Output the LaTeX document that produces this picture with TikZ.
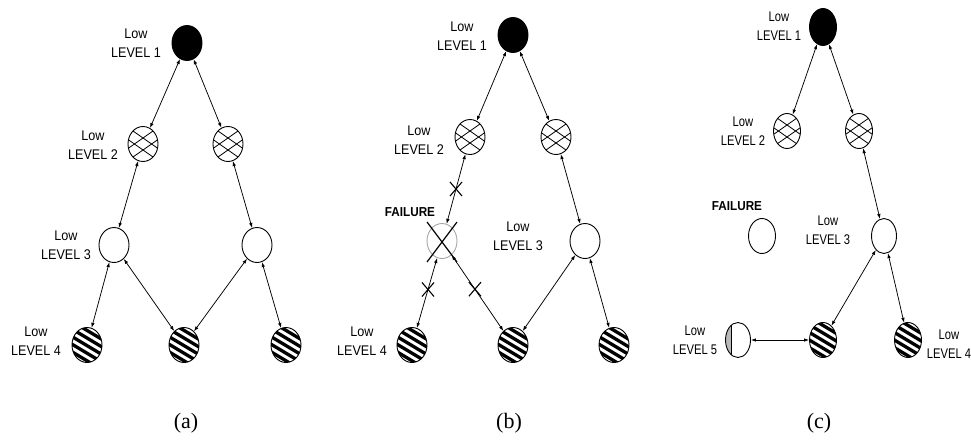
\documentclass[tikz,border=0pt]{standalone}
\usepackage{fontspec}
\setmainfont{Liberation Serif}
\newfontfamily\lab[FakeStretch=0.9]{Liberation Sans}
\newfontfamily\labc[FakeStretch=0.8]{Liberation Sans}
\usetikzlibrary{shapes.geometric,shapes.misc,arrows.meta}
\begin{document}
\begin{tikzpicture}[x=1pt,y=-1pt,
 nd/.style={ellipse, draw, line width=0.9pt, minimum width=30pt, minimum height=35pt, inner sep=0pt},
 ndc/.style={nd, minimum width=27pt},
 topn/.style={fill=black},
 crossn/.style={path picture={
   \foreach \c in {-6,6}{
     \draw[line width=0.8pt] ([shift={(-20,-14+\c)}]path picture bounding box.center) -- ++(40,28);
     \draw[line width=0.8pt] ([shift={(-20,14+\c)}]path picture bounding box.center) -- ++(40,-28);
   }}},
 stripen/.style={path picture={
   \foreach \v in {-30,-22.4,...,31}{
     \draw[line width=3.3pt] ([shift={(-22,\v-13)}]path picture bounding box.center) -- ++(44,26.4);
   }}},
 failn/.style={draw=gray!70},
 l5n/.style={path picture={
   \fill[gray!55] (path picture bounding box.north west) rectangle ([xshift=6pt]path picture bounding box.south west);
   \draw[line width=1.3pt] ([xshift=6pt]path picture bounding box.north west) -- ([xshift=6pt]path picture bounding box.south west);
   }},
 link/.style={{Latex[length=5pt,width=3.5pt]}-{Latex[length=5pt,width=3.5pt]}, line width=0.75pt},
 xm/.style={cross out, draw, line width=1.1pt, minimum width=11pt, minimum height=13pt, inner sep=0pt},
 lbl/.style={align=center, font=\lab\fontsize{14}{19.5}\selectfont, inner sep=0pt},
 lblc/.style={align=center, font=\labc\fontsize{14}{19.5}\selectfont, inner sep=0pt},
 fl/.style={font=\lab\bfseries\fontsize{13}{16}\selectfont, inner sep=0pt},
 captxt/.style={font=\fontsize{22}{26}\selectfont, inner sep=0pt}
]
\useasboundingbox[fill=white] (0,0) rectangle (971,439);

% ---------- (a)
\node[nd,topn] (a1) at (187,43) {};
\node[nd,crossn] (a2l) at (143,144) {};
\node[nd,crossn] (a2r) at (228,144) {};
\node[nd] (a3l) at (114,245) {};
\node[nd] (a3r) at (257,245) {};
\node[nd,stripen] (a4l) at (87,345) {};
\node[nd,stripen] (a4m) at (184,345) {};
\node[nd,stripen] (a4r) at (286,345) {};
\draw[link] (a1) -- (a2l);
\draw[link] (a1) -- (a2r);
\draw[link] (a2l) -- (a3l);
\draw[link] (a2r) -- (a3r);
\draw[link] (a3l) -- (a4l);
\draw[link] (a3l) -- (a4m);
\draw[link] (a3r) -- (a4m);
\draw[link] (a3r) -- (a4r);
\node[lbl] (ta1) at (136,43) {Low\\LEVEL 1};
\node[lbl] (ta2) at (93,145) {Low\\LEVEL 2};
\node[lbl] (ta3) at (66,245) {Low\\LEVEL 3};
\node[lbl] (ta4) at (36,341) {Low\\LEVEL 4};
\node[captxt] (capa) at (186,423) {(a)};

% ---------- (b)
\node[nd,topn] (b1) at (513,35) {};
\node[nd,crossn] (b2l) at (470,137) {};
\node[nd,crossn] (b2r) at (556,137) {};
\node[nd,failn] (b3f) at (442,241) {};
\node[nd] (b3r) at (585,241) {};
\node[nd,stripen] (b4l) at (412,345) {};
\node[nd,stripen] (b4m) at (513,345) {};
\node[nd,stripen] (b4r) at (614,345) {};
\draw[link] (b1) -- (b2l);
\draw[link] (b1) -- (b2r);
\draw[link] (b2l) -- node[xm, pos=0.5] (xb1) {} (b3f);
\draw[link] (b2r) -- (b3r);
\draw[link] (b3f) -- node[xm, pos=0.45] (xb2) {} (b4l);
\draw[link] (b3f) -- node[xm, pos=0.45] (xb3) {} (b4m);
\draw[link] (b3r) -- (b4m);
\draw[link] (b3r) -- (b4r);
\draw[line width=1.2pt] ([shift={(-15,-19)}]b3f.center) -- ++(30,40);
\draw[line width=1.2pt] ([shift={(15,-19)}]b3f.center) -- ++(-30,40);
\node[lbl] (tb1) at (462,36) {Low\\LEVEL 1};
\node[lbl] (tb2) at (419,140) {Low\\LEVEL 2};
\node[fl] (tbf) at (410,212) {FAILURE};
\node[lbl] (tb3) at (518,236) {Low\\LEVEL 3};
\node[lbl] (tb4) at (362,341) {Low\\LEVEL 4};
\node[captxt] (capb) at (509,423) {(b)};

% ---------- (c)
\node[ndc,topn,minimum height=37pt] (c1) at (823,27) {};
\node[ndc,crossn] (c2l) at (787,131) {};
\node[ndc,crossn] (c2r) at (859,131) {};
\node[ndc] (cf) at (762,236) {};
\node[ndc,minimum width=25pt] (c3) at (884,236) {};
\node[ndc,stripen] (c4m) at (823,340) {};
\node[ndc,stripen] (c4r) at (908,340) {};
\node[ndc,minimum width=25pt,l5n] (c5) at (738,340) {};
\draw[link] (c1) -- (c2l);
\draw[link] (c1) -- (c2r);
\draw[link] (c2r) -- (c3);
\draw[link] (c3) -- (c4m);
\draw[link] (c3) -- (c4r);
\draw[link] (c5) -- (c4m);
\node[lblc] (tc1) at (779,26) {Low\\LEVEL 1};
\node[lblc] (tc2) at (743,131) {Low\\LEVEL 2};
\node[fl] (tcf) at (737,206) {FAILURE};
\node[lblc] (tc3) at (828,230) {Low\\LEVEL 3};
\node[lblc] (tc5) at (695,340) {Low\\LEVEL 5};
\node[lblc] (tc4) at (949,344) {Low\\LEVEL 4};
\node[captxt] (capc) at (819,423) {(c)};
\end{tikzpicture}
\end{document}
